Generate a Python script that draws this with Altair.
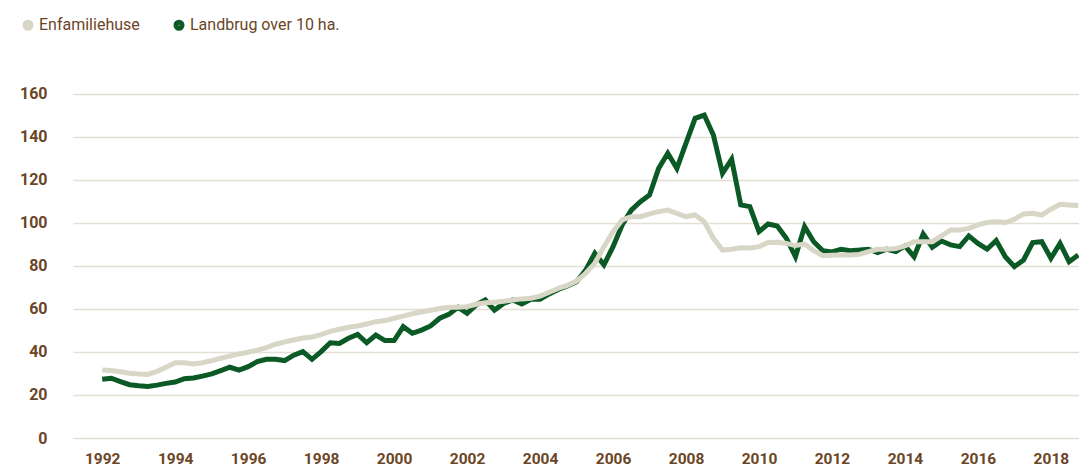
import altair as alt
import pandas as pd

# Quarterly index values, 1992 Q1 - 2018 Q4
enfamiliehuse = [
    31.6, 31.4, 30.8, 30.1, 29.8, 29.6, 31.0, 32.9, 35.0, 35.0, 34.4, 35.0, 36.0, 37.1,
    38.1, 39.1, 39.9, 40.9, 42.0, 43.6, 44.7, 45.6, 46.5, 47.0, 48.1, 49.6, 50.6, 51.5,
    52.1, 53.0, 54.1, 54.6, 55.7, 56.7, 57.8, 58.6, 59.4, 60.2, 60.8, 60.8, 61.1, 62.2,
    62.9, 63.1, 63.6, 64.2, 64.7, 65.0, 66.0, 67.8, 69.6, 71.0, 73.0, 76.6, 81.2, 89.0,
    96.0, 101.4, 102.9, 102.9, 104.2, 105.3, 106.0, 104.5, 102.9, 103.7, 100.6, 92.9,
    87.4, 87.8, 88.5, 88.4, 89.0, 90.9, 91.0, 90.5, 89.5, 90.2, 87.1, 84.8, 85.0,
    85.1, 85.1, 85.4, 86.7, 87.8, 87.8, 88.1, 89.3, 91.3, 91.3, 91.3, 94.0, 96.7, 96.7,
    97.5, 99.1, 100.2, 100.6, 100.2, 101.7, 104.2, 104.5, 103.7, 106.4, 108.7, 108.4, 108.1,
]
landbrug = [
    27.3, 27.8, 26.2, 24.8, 24.3, 24.0, 24.6, 25.4, 26.0, 27.6, 27.9, 28.8, 29.8, 31.3,
    32.9, 31.6, 33.2, 35.5, 36.6, 36.6, 36.0, 38.5, 40.2, 36.6, 40.2, 44.3, 44.0, 46.4,
    48.2, 44.3, 47.9, 45.3, 45.3, 51.8, 48.7, 50.2, 52.1, 55.7, 57.5, 60.8, 58.0, 61.9,
    64.2, 59.5, 62.6, 64.2, 62.3, 64.5, 64.5, 67.0, 69.1, 70.7, 72.7, 78.1, 85.9, 80.5,
    89.0, 99.1, 106.0, 109.9, 113.0, 125.4, 132.4, 125.4, 137.1, 148.7, 150.2, 140.9,
    123.1, 129.6, 108.4, 107.6, 96.0, 99.5, 98.6, 92.9, 84.3, 98.3, 91.3, 87.1, 86.5,
    87.8, 87.1, 87.4, 87.8, 86.2, 87.8, 86.7, 89.3, 84.3, 94.9, 88.7, 91.6, 89.8, 89.0,
    94.0, 90.5, 87.8, 91.8, 84.3, 79.7, 82.8, 90.9, 91.3, 83.6, 90.5, 82.0, 85.1,
]
series_names = ["Enfamiliehuse", "Landbrug over 10 ha."]
series_colors = ["#d8d6c6", "#0b5a26"]
x_tick_years = list(range(1992, 2019, 2))
y_ticks = list(range(0, 161, 20))

quarters = [1992 + i / 4 for i in range(len(enfamiliehuse))]
df = pd.DataFrame({
    "t": quarters + quarters,
    "series": [series_names[0]] * len(enfamiliehuse) + [series_names[1]] * len(landbrug),
    "value": enfamiliehuse + landbrug,
})

label_color = "#6b4526"
font = "Roboto"

x = alt.X("t:Q", scale=alt.Scale(domain=[1991.2, 2018.77], nice=False, zero=False),
          axis=alt.Axis(values=x_tick_years, format="d", grid=False, domain=False, ticks=False,
                        labelPadding=13, labelFontSize=15.5, labelFontWeight="bold",
                        labelColor=label_color, labelFont=font, title=None,
                        labelOverlap=False, labelFlush=False))
y = alt.Y("value:Q", scale=alt.Scale(domain=[0, 166.5], nice=False),
          axis=alt.Axis(values=y_ticks, grid=True, gridColor="#e2e0d4", gridWidth=1.5,
                        domain=False, ticks=False, labelPadding=26, labelFontSize=16,
                        labelFontWeight="bold", labelColor=label_color, labelFont=font,
                        title=None))
color = alt.Color("series:N", scale=alt.Scale(domain=series_names, range=series_colors),
                  legend=alt.Legend(orient="none", legendX=-53, legendY=-63,
                                    direction="horizontal", title=None, symbolType="circle",
                                    symbolSize=25, symbolStrokeWidth=6, padding=0,
                                    labelFont=font, labelFontSize=16, labelColor=label_color,
                                    labelOffset=3, columnPadding=24))

base = alt.Chart(df)
green = base.transform_filter(alt.datum.series == series_names[1]).mark_line(
    strokeWidth=5, strokeJoin="miter", clip=True).encode(x=x, y=y, color=color)
beige = base.transform_filter(alt.datum.series == series_names[0]).mark_line(
    strokeWidth=5, strokeJoin="miter", clip=True).encode(x=x, y=y, color=color)

chart = alt.layer(green, beige).properties(
    width=1006, height=358,
    autosize=alt.AutoSizeParams(type="none"),
    padding={"left": 65, "top": 72, "right": 0, "bottom": 30},
    background="white",
).configure_view(stroke=None)

chart.save("out.html", embed_options={"renderer": "svg", "actions": False})
